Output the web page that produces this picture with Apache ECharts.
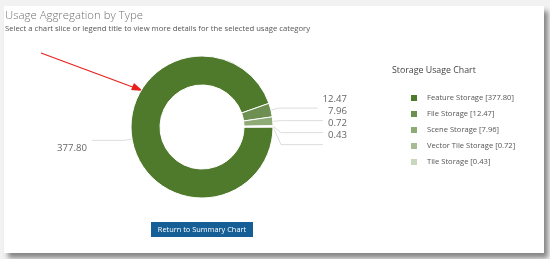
<!DOCTYPE html>
<html>
<head>
<meta charset="utf-8">
<script src="https://cdn.jsdelivr.net/npm/echarts@6/dist/echarts.min.js"></script>
<style>
  html, body { margin: 0; padding: 0; }
  body { width: 550px; height: 259px; background: #f2f2f2; position: relative; overflow: hidden; }
  #panel {
    position: absolute; left: 4px; top: 6px; width: 540px; height: 247px;
    background: #fff; box-shadow: 4px 5px 5px rgba(0, 0, 0, 0.45);
  }
  #myChart { position: absolute; left: 0; top: 0; width: 550px; height: 259px; }
</style>
</head>
<body>
<div id="panel"></div>
<div id="myChart"></div>
<script>
// 数据
var categories = ["Feature Storage", "File Storage", "Scene Storage", "Vector Tile Storage", "Tile Storage"];
var values = [377.8, 12.47, 7.96, 0.72, 0.43];
var colors = ["#4f792b", "#6d8f51", "#8eaa76", "#a6bd93", "#c8d7be"];

var font = "'Open Sans', 'Noto Sans', sans-serif";
var myChart = echarts.init(document.getElementById("myChart"));

var pieData = categories.map(function (name, i) {
  return { name: name, value: values[i], itemStyle: { color: colors[i] } };
});

myChart.setOption({
  animation: false,
  title: [
    {
      text: "Usage Aggregation by Type",
      subtext: "Select a chart slice or legend title to view more details for the selected usage category",
      left: 3,
      top: 10,
      itemGap: 4,
      padding: [0, 2],
      textStyle: { fontFamily: font, fontSize: 11.4, fontWeight: 300, color: "#707070" },
      subtextStyle: { fontFamily: font, fontSize: 7.7, color: "#555" },
    },
    {
      text: "Storage Usage Chart",
      left: 392,
      top: 66,
      padding: 0,
      textStyle: { fontFamily: font, fontSize: 8.8, fontWeight: "normal", color: "#444" },
    },
  ],
  legend: {
    orient: "vertical",
    left: 409,
    top: 92,
    padding: 0,
    icon: "rect",
    itemWidth: 8,
    itemHeight: 8,
    itemGap: 4,
    data: categories,
    formatter: function (name) {
      var i = categories.indexOf(name);
      return name + " [" + values[i].toFixed(2) + "]";
    },
    textStyle: { fontFamily: font, fontSize: 7.6, lineHeight: 12, color: "#555", padding: [0, 0, 0, 4] },
  },
  series: [
    {
      type: "pie",
      left: 57,
      top: 0,
      width: 290,
      height: 259,
      center: [145, 127],
      radius: [42, 71],
      startAngle: 0,
      clockwise: true,
      itemStyle: { borderColor: "#fff", borderWidth: 1 },
      emphasis: { disabled: true },
      label: {
        show: true,
        alignTo: "edge",
        edgeDistance: 0,
        fontFamily: font,
        fontSize: 9.6,
        color: "#666",
        formatter: function (p) {
          return p.value.toFixed(2);
        },
      },
      labelLine: { length: 8, length2: 10, lineStyle: { color: "#ddd", width: 1 } },
      labelLayout: function (params) {
        return { dy: params.dataIndex === 0 ? 8 : -9 };
      },
      data: pieData,
    },
  ],
  graphic: [
    // 红色箭头
    {
      type: "line",
      shape: { x1: 41, y1: 53, x2: 138, y2: 89 },
      style: { stroke: "#e8201c", lineWidth: 1.2 },
    },
    {
      type: "polygon",
      shape: { points: [[143, 91], [131, 90], [134, 83]] },
      style: { fill: "#e8201c" },
    },
    // 按钮
    {
      type: "group",
      left: 151,
      top: 222,
      children: [
        { type: "rect", shape: { x: 0, y: 0, width: 102, height: 15 }, style: { fill: "#155f96" } },
        {
          type: "text",
          style: {
            x: 51, y: 7.5, text: "Return to Summary Chart", fill: "#fff",
            font: "7.4px " + font, align: "center", verticalAlign: "middle",
          },
        },
      ],
    },
  ],
});
</script>
</body>
</html>
